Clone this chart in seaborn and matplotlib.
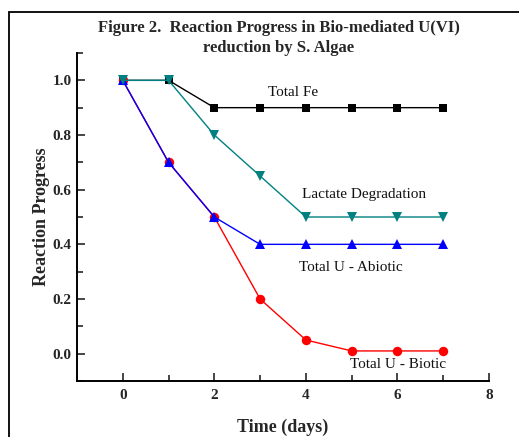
import matplotlib
matplotlib.use("Agg")
import matplotlib.pyplot as plt
from matplotlib.patches import Rectangle
from matplotlib.ticker import MultipleLocator
import seaborn as sns
import pandas as pd

days = [0, 1, 2, 3, 4, 5, 6, 7]
total_fe = [1.0, 1.0, 0.9, 0.9, 0.9, 0.9, 0.9, 0.9]
total_u_biotic = [1.0, 0.7, 0.5, 0.2, 0.05, 0.01, 0.01, 0.01]
total_u_abiotic = [1.0, 0.7, 0.5, 0.4, 0.4, 0.4, 0.4, 0.4]
lactate = [1.0, 1.0, 0.8, 0.65, 0.5, 0.5, 0.5, 0.5]

series_names = ["Total Fe", "Total U - Biotic", "Total U - Abiotic", "Lactate Degradation"]
series_values = [total_fe, total_u_biotic, total_u_abiotic, lactate]
series_colors = ["#000000", "#ff0000", "#0000ff", "#008080"]
series_markers = ["s", "o", "^", "v"]
series_msize = [5.8, 6.8, 7.5, 7.5]
label_pos = [(3.72, 0.955), (6.02, -0.04), (4.98, 0.314), (5.27, 0.584)]

df = pd.DataFrame({
    "Time (days)": days * len(series_names),
    "Reaction Progress": [v for vals in series_values for v in vals],
    "series": [n for n in series_names for _ in days],
})

sns.set_style("ticks")
plt.rcParams["font.family"] = ["Liberation Serif", "DejaVu Serif"]
plt.rcParams["xtick.direction"] = "in"
plt.rcParams["ytick.direction"] = "in"

fig = plt.figure(figsize=(5.19, 4.37), dpi=100)
ax = fig.add_axes([77 / 519, 1 - 381 / 437, (489 - 77) / 519, (381 - 53) / 437])

for name, color, marker, ms in zip(series_names, series_colors, series_markers, series_msize):
    sub = df[df["series"] == name]
    sns.lineplot(data=sub, x="Time (days)", y="Reaction Progress", ax=ax,
                 color=color, marker=marker, markersize=ms, markeredgewidth=0,
                 linewidth=1.0, legend=False)

for name, (lx, ly) in zip(series_names, label_pos):
    ax.text(lx, ly, name, ha="center", va="center", fontsize=11, color="#111111")

ax.set_xlim(-1, 8)
ax.set_ylim(-0.1, 1.1)
ax.xaxis.set_minor_locator(MultipleLocator(1))
ax.yaxis.set_minor_locator(MultipleLocator(0.1))
ax.set_xticks([0, 2, 4, 6, 8])
ax.set_yticks([0.0, 0.2, 0.4, 0.6, 0.8, 1.0])
ax.set_yticklabels(["0.0", "0.2", "0.4", "0.6", "0.8", "1.0"])
ax.tick_params(which="major", length=6, width=1.2, labelsize=11)
ax.tick_params(axis="x", which="major", pad=6)
ax.tick_params(axis="y", which="major", pad=4)
ax.tick_params(which="minor", length=4, width=1.2)
for lab in ax.get_xticklabels() + ax.get_yticklabels():
    lab.set_fontweight("bold")

sns.despine(ax=ax)
for sp in ("left", "bottom"):
    ax.spines[sp].set_linewidth(1.4)
    ax.spines[sp].set_color("black")

ax.set_xlabel("Time (days)", fontsize=13, fontweight="bold", labelpad=12)
ax.set_ylabel("Reaction Progress", fontsize=13, fontweight="bold", labelpad=2)

fig.text(279 / 519, 1 - 38 / 437,
         "Figure 2.  Reaction Progress in Bio-mediated U(VI)\nreduction by S. Algae",
         ha="center", va="center", fontsize=12, fontweight="bold", linespacing=1.35)

fig.patches.append(Rectangle((9 / 519, -0.05), 1.2, 1 - 12 / 437 + 0.05,
                             transform=fig.transFigure, fill=False,
                             edgecolor="black", linewidth=1.3))

fig.savefig("out.png", dpi=100)
